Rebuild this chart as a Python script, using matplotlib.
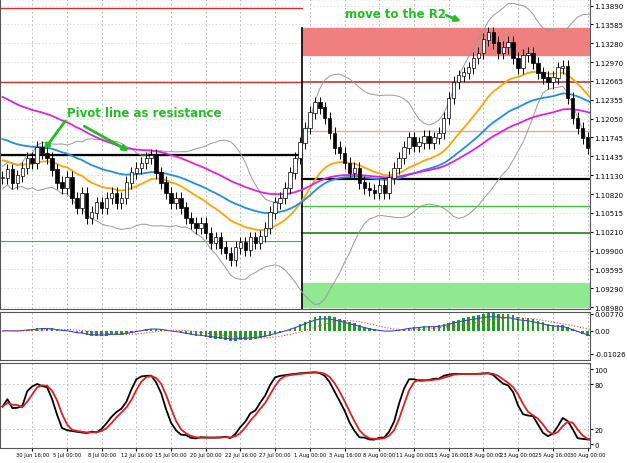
import numpy as np
import pandas as pd
import matplotlib
matplotlib.use("Agg")
import matplotlib.pyplot as plt
from matplotlib.patches import Rectangle

closes = [1.1109,1.1122,1.1101,1.1112,1.1125,1.1141,1.1133,1.1158,1.1149,1.1141,1.1122,1.1101,1.1092,1.1109,1.1076,1.1060,
          1.1084,1.1043,1.1052,1.1068,1.1060,1.1076,1.1084,1.1068,1.1076,1.1101,1.1117,1.1125,1.1133,1.1141,1.1145,1.1117,
          1.1101,1.1084,1.1068,1.1076,1.1060,1.1043,1.1035,1.1027,1.1035,1.1019,1.1003,1.1011,1.0995,1.0986,1.0975,1.0995,
          1.1003,1.0991,1.1011,1.1003,1.1014,1.1027,1.1052,1.1068,1.1076,1.1092,1.1117,1.1141,1.1166,1.1190,1.1215,1.1231,
          1.1223,1.1206,1.1182,1.1158,1.1149,1.1133,1.1117,1.1125,1.1101,1.1092,1.1089,1.1084,1.1096,1.1084,1.1109,1.1125,
          1.1141,1.1158,1.1174,1.1161,1.1166,1.1177,1.1166,1.1174,1.1182,1.1206,1.1239,1.1264,1.1275,1.1280,1.1288,1.1304,
          1.1312,1.1334,1.1345,1.1329,1.1312,1.1321,1.1329,1.1304,1.1288,1.1308,1.1312,1.1296,1.1280,1.1272,1.1264,1.1272,
          1.1288,1.1291,1.1239,1.1206,1.1190,1.1174,1.1158,1.1149,1.1141]
wick = 0.0010
price_ticks = [1.13890,1.13585,1.13280,1.12970,1.12665,1.12355,1.12050,1.11745,1.11435,1.11130,1.10820,1.10515,
               1.10210,1.09900,1.09595,1.09290,1.08980]
date_labels = ["30 Jun 16:00","5 Jul 00:00","8 Jul 00:00","12 Jul 16:00","15 Jul 00:00","20 Jul 00:00","22 Jul 16:00",
               "27 Jul 00:00","1 Aug 00:00","3 Aug 16:00","8 Aug 00:00","11 Aug 00:00","15 Aug 16:00","18 Aug 00:00",
               "23 Aug 00:00","25 Aug 16:00","30 Aug 00:00"]
date_pos = [6,13,20,27,34,41,48,55,62,69,76,83,90,97,104,111,118]
split = 60.5
left_levels = [(1.1386,'#d03030',1.0),(1.1264,'#d03030',1.0),(1.1146,'black',1.6),(1.1006,'#40b040',0.8)]
right_levels = [(1.1264,'#d03030',1.2),(1.1185,'#f0a0a0',1.0),(1.1107,'black',1.6),(1.1063,'#40c040',1.0),(1.1018,'#208020',1.2)]
r2_band = (1.1309,1.1353)
s2_band = (1.0898,1.0937)

c = pd.Series(closes)
o = c.shift(1).fillna(c.iloc[0])
hi = np.maximum(o,c)+wick
lo = np.minimum(o,c)-wick
x = np.arange(len(c))

def ema(s,n,init):
    a=2/(n+1); out=[]; v=init
    for val in s:
        v=v+a*(val-v); out.append(v)
    return np.array(out)
ma20 = ema(c,20,1.1140); ma50 = ema(c,40,1.1175); ma100 = ema(c,60,1.1245)
mid = c.rolling(20,min_periods=1).mean(); sd = c.rolling(20,min_periods=2).std().bfill()
bu, bl = mid+2*sd, mid-2*sd

fig = plt.figure(figsize=(6.27,4.64),dpi=100)
W=590/627
ax = fig.add_axes([0,1-310/464,W,310/464])
am = fig.add_axes([0,1-361/464,W,48/464])
ast = fig.add_axes([0,1-449/464,W,85/464])
xl=(-0.5,118.5)
for a in (ax,am,ast):
    a.set_xlim(*xl)
    a.yaxis.tick_right()
    a.tick_params(labelsize=5,length=2,pad=1)
    for p in date_pos: a.axvline(p,color='#aaaaaa',ls=(0,(2,3)),lw=0.6,zorder=0)
    for s in a.spines.values(): s.set_color('#555555')

ax.set_ylim(1.0895,1.1400)
ax.set_yticks(price_ticks); ax.set_yticklabels([f"{t:.5f}" for t in price_ticks])
for t in price_ticks: ax.axhline(t,color='#cccccc',ls=(0,(2,3)),lw=0.5,zorder=0)
ax.add_patch(Rectangle((split,r2_band[0]),200,r2_band[1]-r2_band[0],color='#f08080',zorder=1))
ax.add_patch(Rectangle((split,s2_band[0]),200,s2_band[1]-s2_band[0],color='#90e890',zorder=1))
for y,col,lw in left_levels: ax.plot([-1,split],[y,y],color=col,lw=lw,zorder=2)
for y,col,lw in right_levels: ax.plot([split,130],[y,y],color=col,lw=lw,zorder=2)
ax.plot([split,split],[1.0895,r2_band[1]],color='black',lw=1.2,zorder=2)
ax.plot(x,bu,color='#999999',lw=0.7,zorder=3); ax.plot(x,bl,color='#999999',lw=0.7,zorder=3)
ax.plot(x,ma20,color='orange',lw=1.3,zorder=3)
ax.plot(x,ma50,color='#2090e0',lw=1.3,zorder=3)
ax.plot(x,ma100,color='#e020e0',lw=1.3,zorder=3)
ax.vlines(x,lo,hi,color='black',lw=0.7,zorder=4)
ax.bar(x,np.abs(c-o)+0.00005,bottom=np.minimum(o,c),width=0.7,color=['white' if cc>=oo else 'black' for cc,oo in zip(c,o)],edgecolor='black',lw=0.5,zorder=5)
ax.set_xticks([])
ax.text(13,1.1210,"Pivot line as resistance",color='#20c020',fontsize=8.5,fontweight='bold',zorder=6)
ax.text(69,1.1370,"move to the R2",color='#20c020',fontsize=8.5,fontweight='bold',zorder=6)
kw=dict(arrowstyle='-|>',color='#20c020',lw=2,mutation_scale=8)
ax.annotate("",xy=(8,1.1150),xytext=(13,1.1205),arrowprops=kw)
ax.annotate("",xy=(26,1.1150),xytext=(16,1.1195),arrowprops=kw)
ax.annotate("",xy=(93,1.1362),xytext=(89,1.1375),arrowprops=kw)

m = pd.Series(ema(c,12,c[0])-ema(c,26,c[0]))
sig = m.rolling(9,min_periods=1).mean()
am.set_ylim(-0.0130,0.0085)
am.set_yticks([0.00770,0.0,-0.01026]); am.set_yticklabels(["0.00770","0.00","-0.01026"])
am.bar(x,m*1.5,width=0.5,color='#20a020')
am.plot(x,m*1.2,color='#4040e0',lw=0.8)
am.plot(x,sig*1.2,color='#e04040',lw=0.8,ls=':')
am.set_xticks([])

hh=pd.Series(hi).rolling(12,min_periods=1).max(); ll=pd.Series(lo).rolling(12,min_periods=1).min()
k=((c-ll)/(hh-ll)*100).rolling(3,min_periods=1).mean()
d=k.rolling(3,min_periods=1).mean()
ast.set_ylim(-5,108)
ast.set_yticks([0,20,80,100])
for t in (20,80): ast.axhline(t,color='#bbbbbb',ls=(0,(2,3)),lw=0.6)
ast.plot(x,k,color='black',lw=1.3)
ast.plot(x,d,color='#e02020',lw=1.3)
ast.set_xticks(date_pos); ast.set_xticklabels(date_labels,fontsize=3.8)
ast.tick_params(axis='x',pad=1,length=2)
fig.savefig("out.png",dpi=100)
